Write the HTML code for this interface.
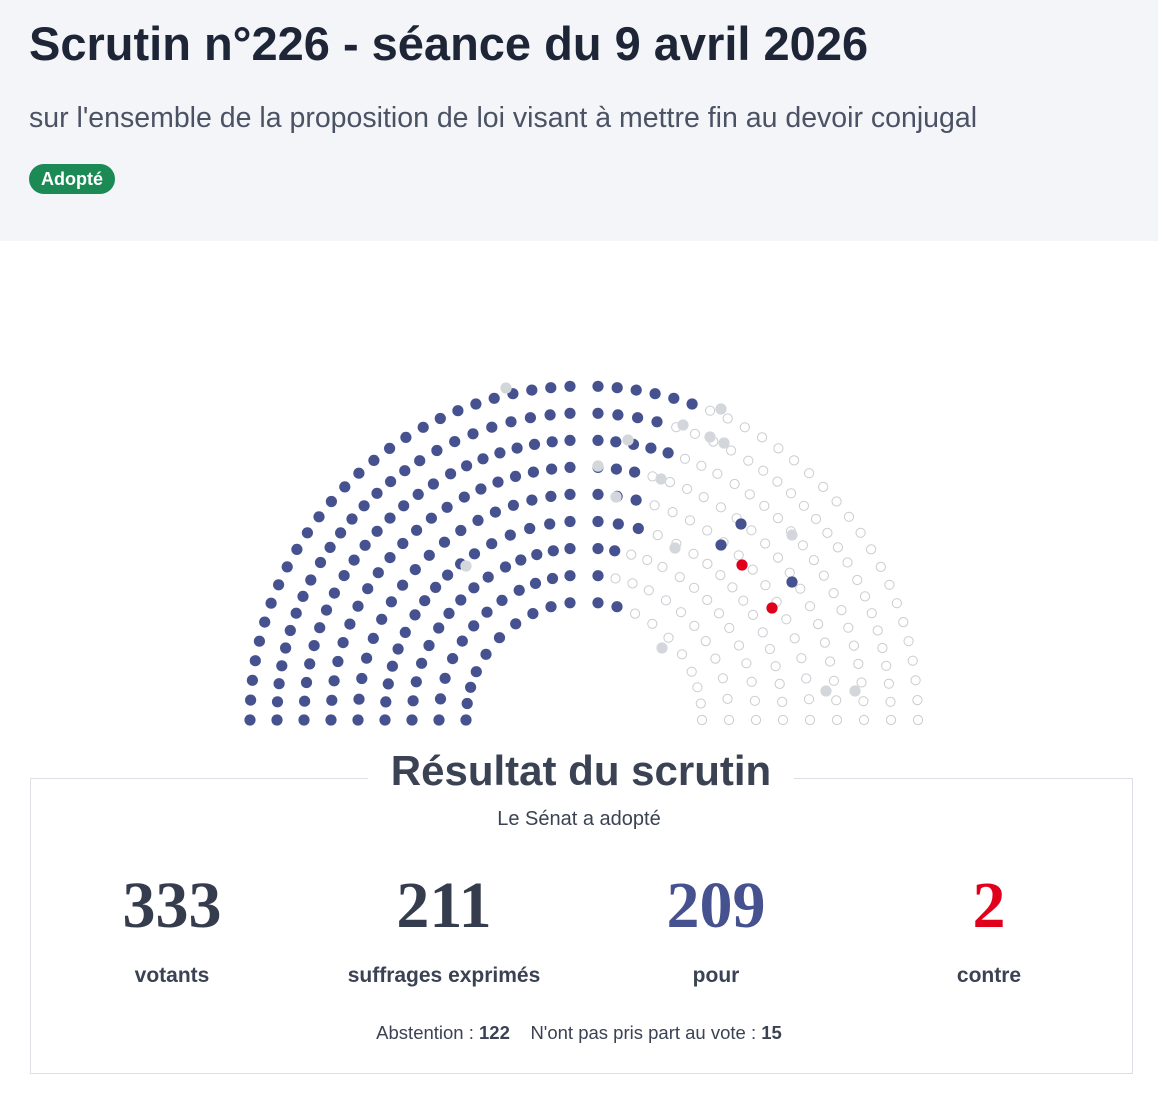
<!DOCTYPE html>
<html><head><meta charset="utf-8">
<style>
body{margin:0;width:1158px;height:1110px;background:#fff;font-family:"Liberation Sans",sans-serif;position:relative;overflow:hidden}
.hd{position:absolute;left:0;top:0;width:1158px;height:241px;background:#f3f5f8}
h1{position:absolute;left:29px;top:16px;margin:0;font-size:47px;font-weight:bold;color:#1e2537;letter-spacing:0px}
.sub{position:absolute;left:29px;top:102px;font-size:28.5px;color:#4b5264}
.badge{position:absolute;left:29px;top:164px;width:86px;height:30px;border-radius:15px;background:#1b8a55;color:#fff;font-weight:bold;font-size:18px;line-height:30px;text-align:center}
svg{position:absolute;left:0;top:0}
.box{position:absolute;left:30px;top:778px;width:1101px;height:294px;border:1px solid #dcdfe3}
.bt{position:absolute;left:368px;top:747px;width:426px;background:#fff;text-align:center;font-size:42px;font-weight:bold;color:#3a4253}
.st{position:absolute;left:0;width:1158px;top:808px;text-align:center;font-size:20px;color:#3a4253}
.n{position:absolute;top:868px;width:300px;text-align:center;font-family:"Liberation Serif",serif;font-weight:bold;font-size:66px;color:#343c4d}
.l{position:absolute;top:964px;width:300px;text-align:center;font-size:21px;font-weight:bold;color:#3a4253}
.f{position:absolute;left:0;width:1158px;top:1022px;text-align:center;font-size:18.5px;color:#3a4253}
</style></head><body>
<div class="hd"></div>
<h1>Scrutin n°226 - séance du 9 avril 2026</h1>
<div class="sub">sur l'ensemble de la proposition de loi visant à mettre fin au devoir conjugal</div>
<div class="badge">Adopté</div>
<svg id="s" width="1158" height="760"></svg>
<div class="box"></div>
<div class="bt">Résultat du scrutin</div>
<div class="st">Le Sénat a adopté</div>
<div class="n" style="left:22px">333</div>
<div class="n" style="left:294px">211</div>
<div class="n" style="left:566px;color:#465290">209</div>
<div class="n" style="left:839px;color:#e1001c">2</div>
<div class="l" style="left:22px">votants</div>
<div class="l" style="left:294px">suffrages exprimés</div>
<div class="l" style="left:566px">pour</div>
<div class="l" style="left:839px">contre</div>
<div class="f">Abstention : <b>122</b> &nbsp;&nbsp; N'ont pas pris part au vote : <b>15</b></div>
<script>
var s=document.getElementById('s'),h='',cx=584,cy=720;
var bd=[0,29,59.5,90,120.5,151,180],hw=[0,10,10,14,10,10,0];
var lim=[630,615,615,640,640,650,670,670,695];
var B='#465290',G='#d3d6db',R='#e1001c';
function c(x,y,t){if(t=='h')h+='<circle cx="'+x.toFixed(1)+'" cy="'+y.toFixed(1)+'" r="4.6" fill="#fff" stroke="#c9ccd1" stroke-width="1"/>';else h+='<circle cx="'+x.toFixed(1)+'" cy="'+y.toFixed(1)+'" r="5.6" fill="'+t+'"/>';}
for(var i=0;i<9;i++){var r=118+27*i;
 for(var j=0;j<6;j++){
  var a0=bd[j]*Math.PI/180+Math.asin(hw[j]/r),a1=bd[j+1]*Math.PI/180-Math.asin(hw[j+1]/r);
  var n=Math.max(1,Math.round(r*(a1-a0)/19));
  for(var k=0;k<=n;k++){var a=a0+(a1-a0)*k/n;var x=cx-r*Math.cos(a),y=cy-r*Math.sin(a);
   var t=x<584?B:(x<lim[i]?B:'h');c(x,y,t);}}}
[[506,388],[466,566],[721,409],[710,437],[724,443],[683,425],[628,440],[598,466],[661,479],[616,497],[675,548],[662,648],[826,691],[855,691],[792,535]].forEach(function(p){c(p[0],p[1],'#fff');c(p[0],p[1],G);});
[[741,524],[721,545],[792,582]].forEach(function(p){c(p[0],p[1],'#fff');c(p[0],p[1],B);});
[[742,565],[772,608]].forEach(function(p){c(p[0],p[1],'#fff');c(p[0],p[1],R);});
s.innerHTML=h;
</script>
</body></html>
